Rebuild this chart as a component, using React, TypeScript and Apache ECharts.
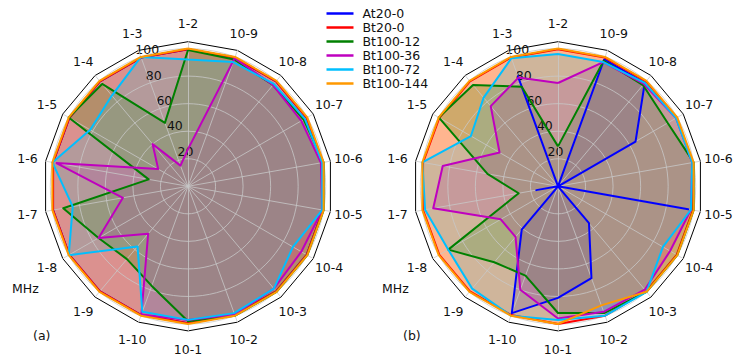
import React, { useEffect, useRef } from 'react';
import * as echarts from 'echarts';

// Categories, counter-clockwise from the top
const CATEGORIES = ['1-2', '1-3', '1-4', '1-5', '1-6', '1-7', '1-8', '1-9', '1-10',
  '10-1', '10-2', '10-3', '10-4', '10-5', '10-6', '10-7', '10-8', '10-9'];

const SERIES_NAMES = ['At20-0', 'Bt20-0', 'Bt100-12', 'Bt100-36', 'Bt100-72', 'Bt100-144'];
const COLORS = ['#0000ff', '#ff0000', '#008000', '#bf00bf', '#00bfff', '#ff9900'];

const RADIAL_TICKS = [20, 40, 60, 80, 100];
const PANEL_TAGS = ['(a)', '(b)'];
const UNIT_LABEL = 'MHz';

// Panel (a)
const A_AT20_0 = [99.5, 99.5, 99.5, 99.5, 99.5, 99.5, 99.5, 99.5, 99.5, 99.5, 99.5, 99.5, 99.5, 99.5, 99.5, 99.5, 99.5, 99.5];
const A_BT20_0 = [99.5, 99.5, 99.5, 99.5, 99.5, 99.5, 99.5, 99.5, 99.5, 99.5, 99.5, 99.5, 99.5, 99.5, 99.5, 99.5, 99.5, 99.5];
const A_BT100_12 = [99, 49, 97, 100, 29, 92, 75, 69, 77, 98, 100, 100, 100, 100, 100, 97, 96, 98];
const A_BT100_36 = [27, 16, 40, 25, 97, 48, 75, 45, 99, 97, 99, 97, 95, 99, 98, 95, 96, 99];
const A_BT100_72 = [92, 100, 86, 82, 100, 85, 100, 57, 97, 97, 98, 97, 88, 99, 99, 98, 97, 96];
const A_BT100_144 = [100, 100, 100, 100, 100, 100, 100, 100, 100, 100, 100, 100, 100, 100, 100, 100, 100, 100];

// Panel (b)
const B_AT20_0 = [0, 85, 0, 0, 0, 16, 0, 41, 98, 81, 71, 35, 0, 96, 0, 65, 98, 98];
const B_BT20_0 = [99.5, 99.5, 99.5, 99.5, 99.5, 99.5, 99.5, 99.5, 99.5, 100, 100, 99.5, 99.5, 99.5, 99.5, 99.5, 99.5, 99.5];
const B_BT100_12 = [29, 77, 96, 100, 52, 29, 92, 72, 69, 92, 98, 100, 100, 100, 100, 92, 96, 97];
const B_BT100_36 = [75, 84, 76, 49, 85, 92, 48, 48, 80, 96, 97, 98, 94, 98, 99, 99, 97, 96];
const B_BT100_72 = [96, 99, 84, 73, 100, 98, 92, 97, 100, 97, 100, 100, 88, 98, 99, 99, 98, 96];
const B_BT100_144 = [100, 100, 100, 100, 100, 100, 100, 100, 100, 100, 92, 100, 100, 100, 100, 100, 100, 100];

const PANELS = [
  [A_AT20_0, A_BT20_0, A_BT100_12, A_BT100_36, A_BT100_72, A_BT100_144],
  [B_AT20_0, B_BT20_0, B_BT100_12, B_BT100_36, B_BT100_72, B_BT100_144],
];

const FONT = 'DejaVu Sans';
const TEXT_COLOR = '#111';
const GRID_COLOR = '#c8c8c8';
const FRAME_MAX = 105;
const GRID_MAX = 100;
const R = 144.6;
const CENTERS: [number, number][] = [[188, 186.3], [558, 186.3]];

export default function App() {
  const ref = useRef<HTMLDivElement>(null);
  useEffect(() => {
    if (!ref.current) return;
    const chart = echarts.init(ref.current, undefined, { renderer: 'svg' });

    const radar = CENTERS.map((c) => ({
      center: c,
      radius: R,
      startAngle: 90,
      shape: 'polygon',
      splitNumber: 1,
      indicator: CATEGORIES.map((n) => ({ name: n, min: 0, max: FRAME_MAX })),
      nameGap: 18.3,
      axisName: {
        color: TEXT_COLOR, fontSize: 12.5, fontFamily: FONT,
        align: 'center', verticalAlign: 'middle', lineHeight: 11,
      },
      axisLine: { show: true, lineStyle: { color: GRID_COLOR, width: 0.8 } },
      axisTick: { show: false },
      axisLabel: { show: false },
      splitLine: { show: true, lineStyle: { color: '#000', width: 1 } },
      splitArea: { show: false },
      z: 3,
    }));

    const polar = CENTERS.map((c) => ({ center: c, radius: (R * GRID_MAX) / FRAME_MAX }));
    const angleAxis = CENTERS.map((_, i) => ({
      polarIndex: i, type: 'value', min: 0, max: 360, interval: 20, startAngle: 112.5,
      axisLine: { show: false }, axisTick: { show: false }, axisLabel: { show: false },
      splitLine: { show: false },
      z: 2,
    }));
    const radiusAxis = CENTERS.map((_, i) => ({
      polarIndex: i, type: 'value', min: 0, max: GRID_MAX, interval: 20,
      axisLine: { show: false }, axisTick: { show: false },
      splitLine: { show: true, lineStyle: { color: GRID_COLOR, width: 0.8 } },
      axisLabel: {
        show: true,
        formatter: (v: number) => (RADIAL_TICKS.includes(v) ? String(v) : ''),
        color: TEXT_COLOR, fontSize: 12.5, fontFamily: FONT,
        align: 'left', verticalAlign: 'bottom', margin: 0,
        padding: [0, 0, 3, 0],
      },
      z: 2,
    }));

    const series: any[] = [];
    PANELS.forEach((set, ci) => {
      series.push({
        type: 'radar', radarIndex: ci, symbol: 'none', z: 1, silent: true,
        data: set.map((vals, k) => ({
          name: SERIES_NAMES[k], value: vals,
          itemStyle: { color: COLORS[k] },
          lineStyle: { color: COLORS[k], opacity: 0, width: 0 },
          areaStyle: { color: COLORS[k], opacity: 0.25 },
        })),
      });
      series.push({
        type: 'radar', radarIndex: ci, symbol: 'none', z: 4, silent: true,
        data: set.map((vals, k) => ({
          name: SERIES_NAMES[k], value: vals,
          itemStyle: { color: COLORS[k] },
          lineStyle: { color: COLORS[k], width: 2 },
        })),
      });
    });

    const graphic: any[] = [];
    CENTERS.forEach((c, i) => {
      graphic.push({
        type: 'text', left: c[0] - 176, top: 282,
        style: { text: UNIT_LABEL, fontSize: 12.5, fontFamily: FONT, fill: TEXT_COLOR },
      });
      graphic.push({
        type: 'text', left: c[0] - 155, top: 329,
        style: { text: PANEL_TAGS[i], fontSize: 12.5, fontFamily: FONT, fill: TEXT_COLOR },
      });
    });

    chart.setOption({
      animation: false,
      backgroundColor: '#fff',
      legend: {
        orient: 'vertical', left: 326.5, top: 7, padding: 0,
        itemWidth: 27, itemHeight: 2.5, itemGap: 1, icon: 'rect',
        data: SERIES_NAMES, selectedMode: false,
        textStyle: { fontSize: 12.5, fontFamily: FONT, color: TEXT_COLOR, padding: [0, 0, 0, 4] },
      },
      radar,
      polar,
      angleAxis,
      radiusAxis,
      series,
      graphic,
    });
    return () => chart.dispose();
  }, []);
  return <div ref={ref} style={{ position: 'fixed', left: 0, top: 0, width: 733, height: 356 }} />;
}
